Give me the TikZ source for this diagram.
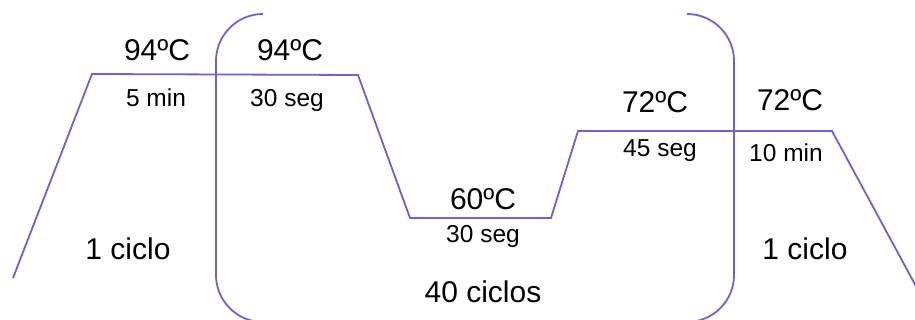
\documentclass[tikz,border=0pt]{standalone}
\usepackage{fontspec}
\setmainfont{Liberation Sans}
\definecolor{prof}{RGB}{112,96,212}
\begin{document}
\begin{tikzpicture}[x=1pt,y=-1pt,
  curve/.style={draw=prof,line width=1.8pt,line join=miter},
  big/.style={font=\fontsize{30}{32}\selectfont,anchor=base,inner sep=0pt},
  small/.style={font=\fontsize{24.5}{26}\selectfont,anchor=base,inner sep=0pt}]
\useasboundingbox (0,0) rectangle (915,320);
\clip (0,0) rectangle (915,320);
% temperature profile
\coordinate (p0) at (13,278);
\coordinate (p1) at (92,74);
\coordinate (p2) at (358,75);
\coordinate (p3) at (410,218);
\coordinate (p4) at (551,218);
\coordinate (p5) at (578,131);
\coordinate (p6) at (832,131);
\coordinate (p7) at (918,290);
\draw[curve] (p0) -- (p1) -- (p2) -- (p3) -- (p4) -- (p5) -- (p6) -- (p7);
% cycle brackets
\draw[curve,rounded corners=47pt] (263,14) -- (216,14) -- (216,322) -- (263,322);
\draw[curve,rounded corners=47pt] (687,14) -- (734,14) -- (734,322) -- (687,322);
% labels
\node[big]   (t1) at (157,61)  {94ºC};
\node[small] (d1) at (156,107) {5 min};
\node[big]   (c1) at (128,260) {1 ciclo};
\node[big]   (t2) at (290,61)  {94ºC};
\node[small] (d2) at (287,107) {30 seg};
\node[big]   (t3) at (483,210) {60ºC};
\node[small] (d3) at (483,243) {30 seg};
\node[big]   (c2) at (483,302) {40 ciclos};
\node[big]   (t4) at (655,113) {72ºC};
\node[small] (d4) at (660,157) {45 seg};
\node[big]   (t5) at (790,111) {72ºC};
\node[small] (d5) at (786,162) {10 min};
\node[big]   (c3) at (805,260) {1 ciclo};
\end{tikzpicture}
\end{document}
